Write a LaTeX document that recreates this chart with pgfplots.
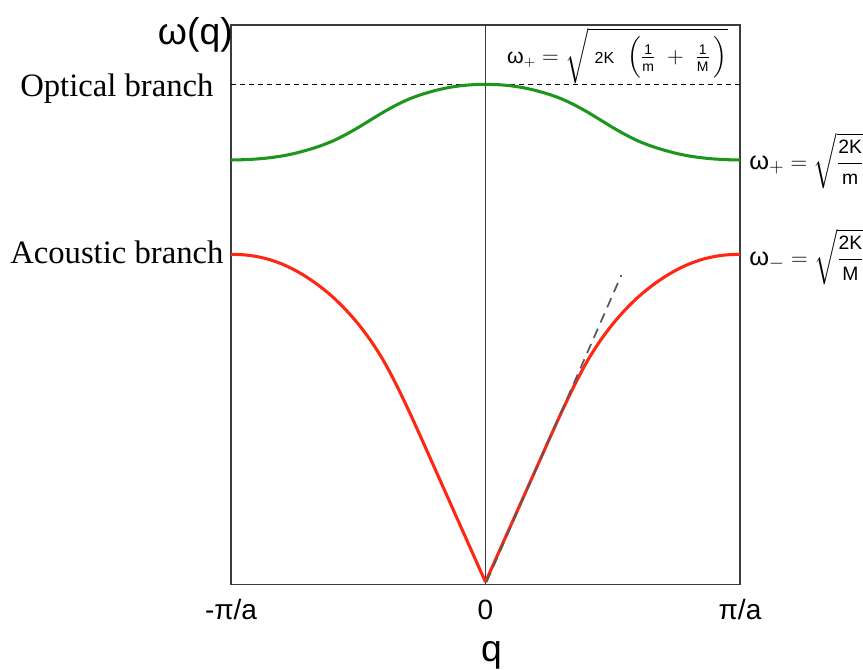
\documentclass[border=0pt]{standalone}
\usepackage{amsmath}
\usepackage{pgfplots}
\usepackage{pgfplotstable}
\pgfplotsset{compat=1.18}
\usepackage{fontspec}
\setmainfont{Liberation Sans}
\newfontfamily\serif{Liberation Serif}

\definecolor{optgreen}{RGB}{30,150,30}
\definecolor{acred}{RGB}{255,38,18}
\definecolor{boxgray}{RGB}{60,60,60}

% Dispersion branches of the diatomic chain, q in units of pi/a
\pgfplotstableread{
u      opt    ac
-1.00  422.0  327.7
-0.95  422.3  327.2
-0.90  423.0  325.5
-0.85  424.2  322.5
-0.80  426.0  318.0
-0.75  428.6  312.0
-0.70  432.0  304.5
-0.65  436.0  295.5
-0.60  441.0  285.0
-0.55  447.3  272.5
-0.50  454.5  258.0
-0.45  462.3  241.0
-0.40  470.0  221.0
-0.35  477.0  197.0
-0.30  483.0  170.5
-0.25  487.6  142.5
-0.20  491.3  114.0
-0.15  494.2  85.5
-0.10  496.2  57.0
-0.05  497.3  28.5
 0.00  497.7  0.0
}\leftbranch
\pgfplotstableread{
u      opt    ac
 0.00  497.7  0.0
 0.05  497.3  28.5
 0.10  496.2  57.0
 0.15  494.2  85.5
 0.20  491.3  114.0
 0.25  487.6  142.5
 0.30  483.0  170.5
 0.35  477.0  197.0
 0.40  470.0  221.0
 0.45  462.3  241.0
 0.50  454.5  258.0
 0.55  447.3  272.5
 0.60  441.0  285.0
 0.65  436.0  295.5
 0.70  432.0  304.5
 0.75  428.6  312.0
 0.80  426.0  318.0
 0.85  424.2  322.5
 0.90  423.0  325.5
 0.95  422.3  327.2
 1.00  422.0  327.7
}\rightbranch

\newcommand{\fs}[1]{\fontsize{#1}{#1}\selectfont}

\begin{document}
\begin{tikzpicture}[x=0.75pt,y=-0.75pt]
\useasboundingbox (0,0) rectangle (863,670);

\begin{axis}[
  at={(173.25pt,-438.375pt)}, anchor=south west,
  scale only axis, width=381.75pt, height=419.625pt,
  xmin=-1, xmax=1, ymin=-2.5, ymax=557,
  axis line style={boxgray, line width=1.1pt},
  xtick={-1,0,1}, xticklabels={-π/a,0,π/a},
  ytick=\empty, major tick length=0pt,
  xticklabel style={font=\fs{21}, anchor=base, yshift=-26.25pt},
  xlabel={q},
  xlabel style={font=\fs{28}, at={(axis description cs:0.5,0)},
                anchor=base, yshift=-57.4pt, xshift=4.5pt},
  clip=false,
]
  % frequency at the zone centre
  \addplot[black, line width=1pt, dash pattern=on 3.75pt off 3pt]
    coordinates {(-1,497.7) (1,497.7)};
  % q = 0 axis
  \addplot[boxgray, line width=1pt] coordinates {(0,-2.5) (0,557)};
  % optical branch
  \addplot[optgreen, line width=2.3pt, smooth] table[x=u, y=opt] {\leftbranch};
  \addplot[optgreen, line width=2.3pt, smooth] table[x=u, y=opt] {\rightbranch};
  % acoustic branch
  \addplot[acred, line width=2.3pt, smooth] table[x=u, y=ac] {\leftbranch};
  \addplot[acred, line width=2.3pt, smooth] table[x=u, y=ac] {\rightbranch};
  % sound-velocity tangent, on top of the acoustic branch
  \addplot[black!65, line width=1.3pt, dash pattern=on 7.5pt off 5pt]
    coordinates {(0.004,0) (0.534,307)};
\end{axis}

\node[anchor=base east, inner sep=0, font=\fs{28}] at (233,45) {ω(q)};
\node[anchor=base west, inner sep=0, font=\serif\fs{24.5}] at (20,97) {Optical branch};
\node[anchor=base west, inner sep=0, font=\serif\fs{24.5}] at (10,263.3) {Acoustic branch};

\node[anchor=west, inner sep=0, font=\fs{19}] at (749,161)
  {$\text{ω}_{+}=\sqrt{\dfrac{\text{\fs{14.5}2K}}{\text{\fs{14.5}m}}}$};
\node[anchor=west, inner sep=0, font=\fs{19}] at (749,257)
  {$\text{ω}_{-}=\sqrt{\dfrac{\text{\fs{14.5}2K}}{\text{\fs{14.5}M}}}$};
\node[anchor=east, inner sep=0, font=\fs{16}] at (728,56)
  {$\text{ω}_{+}=\sqrt{\;\text{\fs{12}2K}\;\;\Bigl(\frac{\text{\fs{10.5}1}}{\text{\fs{10.5}m}}\;+\;\frac{\text{\fs{10.5}1}}{\text{\fs{10.5}M}}\,\Bigr)}$};
\end{tikzpicture}
\end{document}
